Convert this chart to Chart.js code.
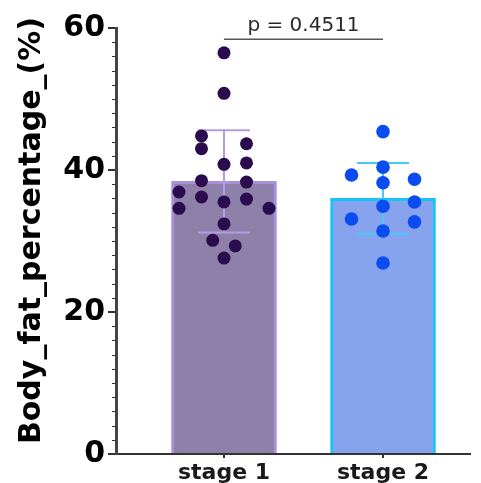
<!DOCTYPE html>
<html>
<head>
<meta charset="utf-8">
<script src="https://cdn.jsdelivr.net/npm/chart.js@4/dist/chart.umd.min.js"></script>
<style>
html,body{margin:0;padding:0;background:#fff;}
canvas{display:block;}
</style>
</head>
<body>
<canvas id="c" width="481" height="483"></canvas>
<script>
// ---- data ----
const categories = ['stage 1', 'stage 2'];
const barMeans = [38.4, 36.0];
const errorSD = [7.2, 5.0];
const stage1Values = [56.5, 50.8, 44.8, 43.7, 43.0, 40.8, 41.0, 38.5, 38.3, 36.9, 36.2, 35.5, 35.9, 34.6, 34.6, 32.4, 30.1, 29.3, 27.6];
const stage1Cols   = [0, 0, -1, 1, -1, 0, 1, -1, 1, -2, -1, 0, 1, -2, 2, 0, -0.5, 0.5, 0];
const stage2Values = [45.4, 40.4, 39.3, 38.7, 38.2, 34.9, 35.5, 33.1, 32.7, 31.4, 26.9];
const stage2Cols   = [0, 0, -1.4, 1.4, 0, 0, 1.4, -1.4, 1.4, 0, 0];
const yTicks = [0, 20, 40, 60];
const pValueText = 'p = 0.4511';
const yTitle = 'Body_fat_percentage_(%)';

// ---- styling ----
const COL_STEP = 0.1415;
const barFill = ['#8E80A8', '#87A3EE'];
const barBorder = ['#A890DA', '#18C4F6'];
const errColor = ['#B49CE4', '#48C9F5'];
const pointColor = ['#2B0C4E', '#0B4CF0'];

Chart.defaults.font.family = 'DejaVu Sans';
Chart.defaults.color = '#000';

const toPoints = (vals, cols, idx) => vals.map((v, i) => ({ x: idx + 1 + cols[i] * COL_STEP, y: v }));

const errorBarPlugin = {
  id: 'errorBars',
  afterDatasetDraw(chart, args) {
    if (args.meta.type !== 'bar') return;
    const ctx = chart.ctx, xs = chart.scales.x, ys = chart.scales.y;
    ctx.save();
    barMeans.forEach((m, i) => {
      const x = xs.getPixelForValue(i + 1);
      const yt = ys.getPixelForValue(m + errorSD[i]);
      const yb = ys.getPixelForValue(m - errorSD[i]);
      ctx.strokeStyle = errColor[i];
      ctx.lineWidth = 2;
      ctx.beginPath();
      ctx.moveTo(x, yt); ctx.lineTo(x, yb);
      ctx.moveTo(x - 26, yt); ctx.lineTo(x + 26, yt);
      ctx.moveTo(x - 26, yb); ctx.lineTo(x + 26, yb);
      ctx.stroke();
    });
    ctx.restore();
  }
};

const extrasPlugin = {
  id: 'extras',
  afterDraw(chart) {
    const ctx = chart.ctx, xs = chart.scales.x, ys = chart.scales.y;
    ctx.save();
    // minor ticks on y axis
    ctx.strokeStyle = '#333';
    ctx.lineWidth = 1;
    ctx.beginPath();
    for (let v = ys.min; v <= ys.max; v += 2) {
      if (v % 20 === 0) continue;
      const y = Math.round(ys.getPixelForValue(v)) + 0.5;
      ctx.moveTo(xs.left - 4, y); ctx.lineTo(xs.left, y);
    }
    ctx.stroke();
    // significance bracket
    const x1 = xs.getPixelForValue(1), x2 = xs.getPixelForValue(2);
    const yb = ys.getPixelForValue(58.4);
    ctx.strokeStyle = '#555';
    ctx.lineWidth = 1.5;
    ctx.beginPath();
    ctx.moveTo(x1, yb); ctx.lineTo(x2, yb);
    ctx.stroke();
    ctx.fillStyle = '#2a2a2a';
    ctx.font = '20px "DejaVu Sans"';
    ctx.textAlign = 'center';
    ctx.textBaseline = 'middle';
    ctx.fillText(pValueText, (x1 + x2) / 2, yb - 13.5);
    ctx.restore();
  }
};

new Chart(document.getElementById('c'), {
  type: 'scatter',
  data: {
    datasets: [
      {
        type: 'scatter',
        data: toPoints(stage1Values, stage1Cols, 0),
        backgroundColor: pointColor[0],
        borderWidth: 0,
        pointRadius: 6.5,
        order: 1
      },
      {
        type: 'scatter',
        data: toPoints(stage2Values, stage2Cols, 1),
        backgroundColor: pointColor[1],
        borderWidth: 0,
        pointRadius: 6.8,
        order: 1
      },
      {
        type: 'bar',
        data: barMeans.map((m, i) => ({ x: i + 1, y: m })),
        backgroundColor: barFill,
        borderColor: barBorder,
        borderWidth: 3,
        borderSkipped: 'start',
        barThickness: 105,
        order: 2
      }
    ]
  },
  options: {
    responsive: false,
    animation: false,
    events: [],
    layout: { padding: { top: 28, right: 11, left: 0, bottom: 0 } },
    plugins: { legend: { display: false }, tooltip: { enabled: false } },
    scales: {
      x: {
        type: 'linear',
        min: 0.3208,
        max: 2.547,
        offset: false,
        afterBuildTicks: (s) => { s.ticks = categories.map((c, i) => ({ value: i + 1 })); },
        afterFit: (s) => { s.height = 29; },
        ticks: {
          callback: (v) => categories[Math.round(v) - 1],
          font: { size: 22, weight: 'bold' },
          color: '#1a1a1a',
          padding: 2,
          maxRotation: 0,
          autoSkip: false
        },
        grid: { offset: false, drawOnChartArea: false, drawTicks: true, tickLength: 4, color: '#333', lineWidth: 2 },
        border: { display: true, color: '#333', width: 2 }
      },
      y: {
        min: 0,
        max: 60,
        afterBuildTicks: (s) => { s.ticks = yTicks.map(v => ({ value: v })); },
        afterFit: (s) => { s.width = 116; },
        ticks: {
          font: { size: 30, weight: 'bold' },
          color: '#000',
          padding: 3
        },
        grid: { offset: false, drawOnChartArea: false, drawTicks: true, tickLength: 8, color: '#333', lineWidth: 2 },
        border: { display: true, color: '#444', width: 3 },
        title: {
          display: true,
          text: '  ' + yTitle,
          font: { size: 30, weight: 'bold' },
          color: '#000',
          padding: { top: 14, bottom: 0 }
        }
      }
    }
  },
  plugins: [errorBarPlugin, extrasPlugin]
});
</script>
</body>
</html>
